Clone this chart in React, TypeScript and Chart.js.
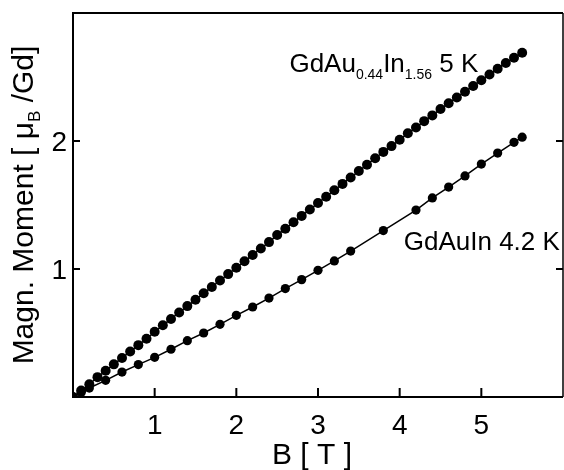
import { useEffect, useRef } from "react";
import { Chart, registerables } from "chart.js";

Chart.register(...registerables);

// GdAu0.44In1.56, 5 K
const FIELD_A = [
  0, 0.1, 0.2, 0.3, 0.4, 0.5, 0.6, 0.7, 0.8, 0.9,
  1.0, 1.1, 1.2, 1.3, 1.4, 1.5, 1.6, 1.7, 1.8, 1.9,
  2.0, 2.1, 2.2, 2.3, 2.4, 2.5, 2.6, 2.7, 2.8, 2.9,
  3.0, 3.1, 3.2, 3.3, 3.4, 3.5, 3.6, 3.7, 3.8, 3.9,
  4.0, 4.1, 4.2, 4.3, 4.4, 4.5, 4.6, 4.7, 4.8, 4.9,
  5.0, 5.1, 5.2, 5.3, 5.4, 5.5,
];
const MOMENT_A = [
  0, 0.05, 0.1, 0.155, 0.205, 0.255, 0.305, 0.355, 0.405, 0.455,
  0.51, 0.56, 0.61, 0.66, 0.71, 0.76, 0.81, 0.86, 0.91, 0.96,
  1.01, 1.06, 1.11, 1.16, 1.21, 1.265, 1.315, 1.365, 1.415, 1.465,
  1.515, 1.565, 1.615, 1.665, 1.715, 1.765, 1.815, 1.865, 1.915, 1.96,
  2.01, 2.06, 2.105, 2.155, 2.2, 2.25, 2.295, 2.34, 2.385, 2.43,
  2.475, 2.52, 2.565, 2.61, 2.65, 2.69,
];

// GdAuIn, 4.2 K
const FIELD_B = [
  0, 0.1, 0.2, 0.4, 0.6, 0.8, 1.0, 1.2, 1.4, 1.6, 1.8, 2.0, 2.2, 2.4,
  2.6, 2.8, 3.0, 3.2, 3.4, 3.8, 4.2, 4.4, 4.6, 4.8, 5.0, 5.2, 5.4, 5.5,
];
const MOMENT_B = [
  0, 0.035, 0.07, 0.13, 0.195, 0.253, 0.31, 0.373, 0.44, 0.5, 0.568, 0.638, 0.703, 0.773,
  0.847, 0.917, 0.99, 1.063, 1.14, 1.3, 1.46, 1.555, 1.64, 1.727, 1.82, 1.906, 1.99, 2.03,
];

const X_TICKS = [1, 2, 3, 4, 5];
const Y_TICKS = [1, 2];

type Part = { t: string; sub?: boolean };
const LABEL_A: Part[] = [
  { t: "GdAu" },
  { t: "0.44", sub: true },
  { t: "In" },
  { t: "1.56", sub: true },
  { t: " 5 K" },
];
const LABEL_A_AT = { x: 2.65, y: 2.54 };
const LABEL_B: Part[] = [{ t: "GdAuIn 4.2 K" }];
const LABEL_B_AT = { x: 4.05, y: 1.146 };
const X_TITLE: Part[] = [{ t: "B [ T ]" }];
const Y_TITLE: Part[] = [{ t: "Magn. Moment [ μ" }, { t: "B", sub: true }, { t: " /Gd]" }];

const FONT = '"Liberation Sans", Arial, Helvetica, sans-serif';

function drawRich(
  ctx: CanvasRenderingContext2D,
  parts: Part[],
  x: number,
  y: number,
  size: number,
  subSize: number,
  subShift: number,
  align: "left" | "center" | "right"
) {
  ctx.save();
  ctx.textAlign = "left";
  ctx.textBaseline = "alphabetic";
  ctx.fillStyle = "#000";
  let total = 0;
  for (const p of parts) {
    ctx.font = `${p.sub ? subSize : size}px ${FONT}`;
    total += ctx.measureText(p.t).width;
  }
  let cx = align === "center" ? x - total / 2 : align === "right" ? x - total : x;
  for (const p of parts) {
    ctx.font = `${p.sub ? subSize : size}px ${FONT}`;
    ctx.fillText(p.t, cx, p.sub ? y + subShift : y);
    cx += ctx.measureText(p.t).width;
  }
  ctx.restore();
}

const decor = {
  id: "decor",
  afterDraw(chart: any) {
    const { ctx, chartArea: a, scales } = chart;
    const xs = scales.x;
    const ys = scales.y;
    ctx.save();
    ctx.strokeStyle = "#000";
    // frame
    ctx.lineWidth = 2;
    ctx.beginPath();
    ctx.moveTo(a.right, a.top);
    ctx.lineTo(a.left, a.top);
    ctx.lineTo(a.left, a.bottom);
    ctx.lineTo(a.right, a.bottom);
    ctx.stroke();
    ctx.lineWidth = 1.5;
    ctx.beginPath();
    ctx.moveTo(a.right, a.top);
    ctx.lineTo(a.right, a.bottom);
    ctx.stroke();
    // inward ticks
    ctx.lineWidth = 2;
    ctx.beginPath();
    for (const v of X_TICKS) {
      const px = xs.getPixelForValue(v);
      ctx.moveTo(px, a.bottom);
      ctx.lineTo(px, a.bottom - 9);
    }
    for (const v of Y_TICKS) {
      const py = ys.getPixelForValue(v);
      ctx.moveTo(a.left, py);
      ctx.lineTo(a.left + 7, py);
      ctx.moveTo(a.right, py);
      ctx.lineTo(a.right - 7, py);
    }
    ctx.stroke();
    ctx.restore();

    // tick labels
    for (const v of X_TICKS) {
      drawRich(ctx, [{ t: String(v) }], xs.getPixelForValue(v), a.bottom + 37, 28, 16, 0, "center");
    }
    for (const v of Y_TICKS) {
      drawRich(ctx, [{ t: String(v) }], a.left - 6, ys.getPixelForValue(v) + 10, 28, 16, 0, "right");
    }

    // annotations
    drawRich(ctx, LABEL_A, xs.getPixelForValue(LABEL_A_AT.x), ys.getPixelForValue(LABEL_A_AT.y), 26, 14, 7, "left");
    drawRich(ctx, LABEL_B, xs.getPixelForValue(LABEL_B_AT.x), ys.getPixelForValue(LABEL_B_AT.y), 26, 14, 7, "left");

    // axis titles
    drawRich(ctx, X_TITLE, (a.left + a.right) / 2 - 6, 464, 30, 16, 7, "center");
    ctx.save();
    ctx.translate(33, (a.top + a.bottom) / 2);
    ctx.rotate(-Math.PI / 2);
    drawRich(ctx, Y_TITLE, 0, 0, 30, 17, 7, "center");
    ctx.restore();
  },
};

export default function App() {
  const ref = useRef<HTMLCanvasElement | null>(null);
  useEffect(() => {
    if (!ref.current) return;
    const chart = new Chart(ref.current, {
      type: "scatter",
      data: {
        datasets: [
          {
            label: "GdAu0.44In1.56 5 K",
            data: FIELD_A.map((x, i) => ({ x, y: MOMENT_A[i] })),
            showLine: true,
            borderColor: "#000",
            borderWidth: 1.5,
            backgroundColor: "#000",
            pointBackgroundColor: "#000",
            pointBorderWidth: 0,
            pointRadius: 5,
          },
          {
            label: "GdAuIn 4.2 K",
            data: FIELD_B.map((x, i) => ({ x, y: MOMENT_B[i] })),
            showLine: true,
            borderColor: "#000",
            borderWidth: 1.5,
            backgroundColor: "#000",
            pointBackgroundColor: "#000",
            pointBorderWidth: 0,
            pointRadius: 4.6,
          },
        ],
      },
      options: {
        animation: false,
        responsive: false,
        maintainAspectRatio: false,
        layout: { autoPadding: false, padding: { left: 0, right: 1, top: 13, bottom: 0 } },
        plugins: { legend: { display: false }, tooltip: { enabled: false } },
        scales: {
          x: {
            type: "linear",
            min: 0,
            max: 6,
            grid: { display: false, drawTicks: false },
            border: { display: false },
            ticks: { display: false, stepSize: 1 },
            afterFit: (s: any) => {
              s.height = 73;
              s.paddingLeft = 0;
              s.paddingRight = 0;
            },
          },
          y: {
            type: "linear",
            min: 0,
            max: 3,
            grid: { display: false, drawTicks: false },
            border: { display: false },
            ticks: { display: false, stepSize: 1 },
            afterFit: (s: any) => {
              s.width = 73;
              s.paddingTop = 0;
              s.paddingBottom = 0;
            },
          },
        },
      },
      plugins: [decor],
    });
    return () => chart.destroy();
  }, []);
  return (
    <div style={{ position: "fixed", left: 0, top: 0, width: 564, height: 470, background: "#fff" }}>
      <canvas ref={ref} width={564} height={470} style={{ width: 564, height: 470, display: "block" }} />
    </div>
  );
}
